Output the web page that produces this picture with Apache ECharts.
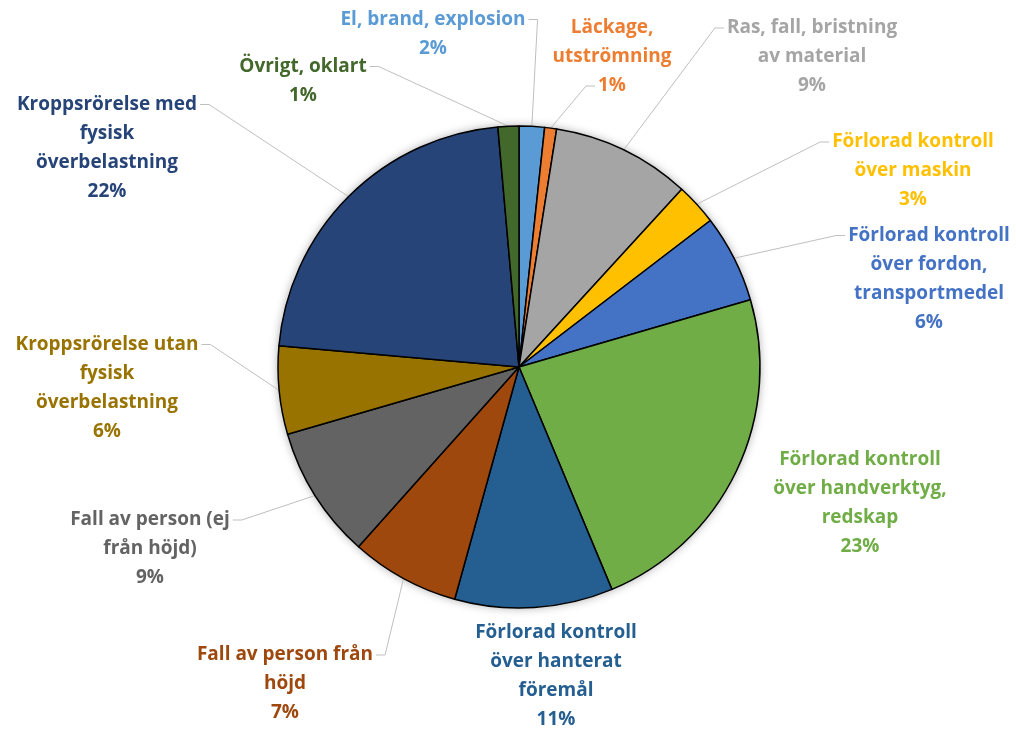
<!DOCTYPE html>
<html>
<head>
<meta charset="utf-8">
<script src="https://cdn.jsdelivr.net/npm/echarts@6/dist/echarts.min.js"></script>
<style>
  html, body { margin: 0; background: #fff; }
  #main { width: 1016px; height: 731px; }
</style>
</head>
<body>
<div id="main"></div>
<script>
// categories as wrapped in the original labels
const categories = [
  'El, brand, explosion',
  'Läckage,\nutströmning',
  'Ras, fall, bristning\nav material',
  'Förlorad kontroll\növer maskin',
  'Förlorad kontroll\növer fordon,\ntransportmedel',
  'Förlorad kontroll\növer handverktyg,\nredskap',
  'Förlorad kontroll\növer hanterat\nföremål',
  'Fall av person från\nhöjd',
  'Fall av person (ej\nfrån höjd)',
  'Kroppsrörelse utan\nfysisk\növerbelastning',
  'Kroppsrörelse med\nfysisk\növerbelastning',
  'Övrigt, oklart'
];
// share in percent
const values = [1.7, 0.8, 9.3, 2.8, 5.9, 23.2, 10.6, 7.3, 8.9, 5.9, 22.2, 1.4];
const colors = ['#5B9BD5', '#ED7D31', '#A5A5A5', '#FFC000', '#4472C4', '#70AD47',
                '#255E91', '#9E480E', '#636363', '#997300', '#264478', '#43682B'];

// where each label block sits and where its leader line leaves it
const labelPos = [
  { x: 433, y: 34, side: 'right', row: 0 },
  { x: 612, y: 57, side: 'left', row: 'last' },
  { x: 812, y: 57, side: 'left', row: 0 },
  { x: 913, y: 171, side: 'left', row: 0 },
  { x: 929, y: 279, side: 'left', row: 0 },
  { x: 860, y: 503, side: 'none' },
  { x: 556, y: 676, side: 'none' },
  { x: 285, y: 684, side: 'right', row: 0 },
  { x: 150, y: 549, side: 'right', row: 0 },
  { x: 107, y: 388, side: 'right', row: 0 },
  { x: 107, y: 148, side: 'right', row: 0 },
  { x: 303, y: 81, side: 'right', row: 0 }
];

const FONT = 'Open Sans';
const FS = 19;
const LH = 29;

const ctx = document.createElement('canvas').getContext('2d');
ctx.font = 'bold ' + FS + 'px "' + FONT + '"';
function textW(s) { return ctx.measureText(s).width; }

const total = values.reduce((a, b) => a + b, 0);
function labelText(i) {
  return categories[i] + '\n' + Math.round(values[i] / total * 100) + '%';
}

const data = categories.map((name, i) => ({
  name: name,
  value: values[i],
  itemStyle: { color: colors[i] },
  label: { color: colors[i] },
  labelLine: { show: labelPos[i].side !== 'none' }
}));

var myChart = echarts.init(document.getElementById('main'));

var option = {
  animation: false,
  series: [
    {
      // soft shadow under the pie
      type: 'pie',
      silent: true,
      center: [519, 367],
      radius: 241,
      z: 1,
      label: { show: false },
      labelLine: { show: false },
      itemStyle: { color: '#fff', shadowBlur: 10, shadowColor: 'rgba(0,0,0,0.35)' },
      data: [total]
    },
    {
      type: 'pie',
      center: [519, 367],
      radius: 241,
      startAngle: 90,
      clockwise: true,
      z: 2,
      avoidLabelOverlap: false,
      itemStyle: { borderColor: '#000', borderWidth: 1.5 },
      label: {
        show: true,
        position: 'outside',
        formatter: p => labelText(p.dataIndex),
        fontFamily: FONT,
        fontWeight: 'bold',
        fontSize: FS,
        lineHeight: LH,
        align: 'center'
      },
      labelLine: {
        show: true,
        length: 10,
        length2: 10,
        lineStyle: { color: '#BFBFBF', width: 1 }
      },
      labelLayout: function (p) {
        const lp = labelPos[p.dataIndex];
        const out = { x: lp.x, y: lp.y, align: 'center', verticalAlign: 'middle' };
        if (lp.side !== 'none' && p.labelLinePoints) {
          const a = p.labelLinePoints[0];
          const rows = labelText(p.dataIndex).split('\n');
          const r = lp.row === 'last' ? rows.length - 1 : 0;
          const ry = lp.y - rows.length * LH / 2 + LH * (r + 0.5);
          const w = textW(rows[r]);
          const ex = lp.side === 'right' ? lp.x + w / 2 + 3 : lp.x - w / 2 - 3;
          const bx = lp.side === 'right' ? ex + 9 : ex - 9;
          out.labelLinePoints = [a, [bx, ry], [ex, ry]];
        }
        return out;
      },
      data: data
    }
  ]
};

myChart.setOption(option);
</script>
</body>
</html>
